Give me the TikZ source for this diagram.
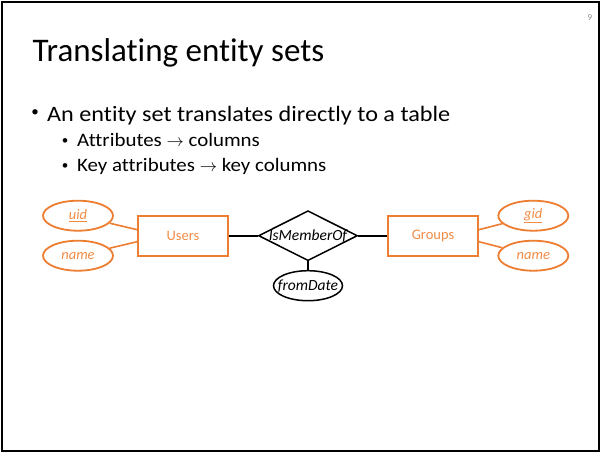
\documentclass[tikz,border=0pt]{standalone}
\usepackage{fontspec}
\setmainfont{Carlito}[Ligatures=NoCommon]
\newfontfamily\bodyfont{Carlito}[Ligatures=NoCommon,FakeStretch=1.1]
\usetikzlibrary{shapes.geometric}
\definecolor{erorange}{RGB}{237,125,49}
\definecolor{ertext}{RGB}{240,140,70}

\begin{document}
\begin{tikzpicture}[x=1pt,y=-1pt,
  ent/.style={draw=erorange,line width=1.8pt,minimum width=90pt,minimum height=40pt,inner sep=0pt,text=ertext,font=\fontsize{14.5}{16}\selectfont},
  att/.style={draw=erorange,ellipse,line width=1.8pt,minimum width=70pt,minimum height=30pt,inner sep=0pt,text=ertext,font=\fontsize{14.5}{16}\selectfont\itshape},
  rel/.style={draw,diamond,line width=1.5pt,minimum width=99pt,minimum height=50pt,inner sep=-12pt,aspect=2,font=\fontsize{15.5}{16}\selectfont\itshape},
  ratt/.style={draw,ellipse,line width=1.5pt,minimum width=69pt,minimum height=30pt,inner sep=-6pt,font=\fontsize{15.5}{16}\selectfont\itshape},
  ol/.style={erorange,line width=1.6pt},
  bl/.style={line width=1.9pt},
  txt/.style={anchor=base west,inner sep=0pt},
  dot/.style={inner sep=0pt}]
\useasboundingbox (0,0) rectangle (601,453);
% slide frame
\draw[line width=2.2pt] (2,2) rectangle (599,451);
\node[text=black!45,font=\fontsize{9}{10}\selectfont] (pg) at (590,18) {9};
% title and bullets
\node[txt,font=\fontsize{33}{36}\selectfont] (title) at (32.5,61.7) {Translating entity sets};
\node[dot,font=\fontsize{15}{16}\selectfont] (d1) at (35,113.5) {\textbullet};
\node[txt,font=\bodyfont\fontsize{22}{24}\selectfont] (b1) at (47,121) {An entity set translates directly to a table};
\node[dot,font=\fontsize{13}{14}\selectfont] (d2) at (65,142) {\textbullet};
\node[txt,font=\bodyfont\fontsize{19}{20}\selectfont] (b2) at (77,146.7) {Attributes $\to$ columns};
\node[dot,font=\fontsize{13}{14}\selectfont] (d3) at (65,167) {\textbullet};
\node[txt,font=\bodyfont\fontsize{19}{20}\selectfont] (b3) at (77,171.7) {Key attributes $\to$ key columns};
% entities
\node[ent] (users) at (183,235.7) {Users};
\node[ent] (groups) at (433,235.7) {Groups};
\node[rel] (member) at (308,235.7) {IsMemberOf};
% attributes
\node[att] (uid) at (78,215.7) {\underline{uid}};
\node[att] (uname) at (78,255.7) {name};
\node[att] (gid) at (533.3,215.7) {\underline{gid}};
\node[att] (gname) at (533.3,255.7) {name};
\node[ratt] (from) at (308,285.7) {fromDate};
% connectors
\draw[ol] ([yshift=6]users.west) -- (uid);
\draw[ol] ([yshift=-6]users.west) -- (uname);
\draw[ol] ([yshift=6]groups.east) -- (gid);
\draw[ol] ([yshift=-6]groups.east) -- (gname);
\draw[bl] (users) -- (member);
\draw[bl] (member) -- (groups);
\draw[bl] (member) -- (from);
\end{tikzpicture}
\end{document}
